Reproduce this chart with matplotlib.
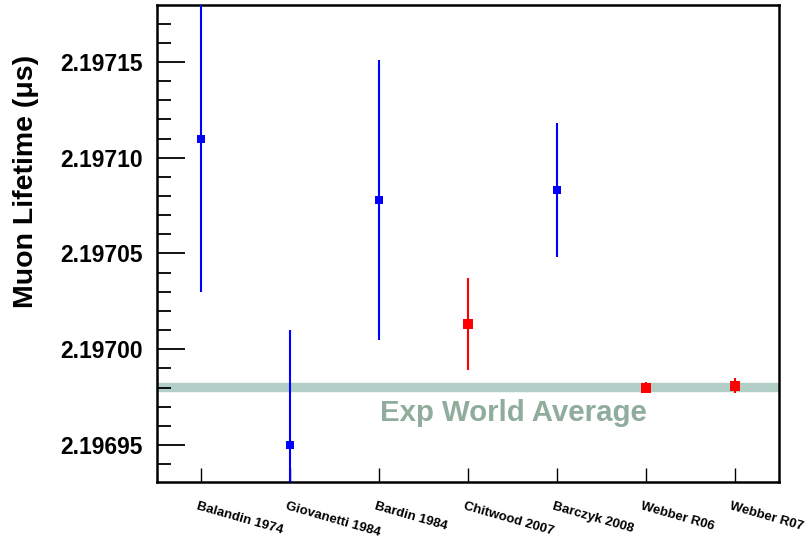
import numpy as np
import matplotlib
matplotlib.use("Agg")
import matplotlib.pyplot as plt
from matplotlib.ticker import MultipleLocator, FormatStrFormatter

plt.rcParams['font.family'] = ['Liberation Sans', 'DejaVu Sans']

# measurements of the muon lifetime (us)
experiments = ["Balandin 1974", "Giovanetti 1984", "Bardin 1984", "Chitwood 2007",
               "Barczyk 2008", "Webber R06", "Webber R07"]
lifetime = [2.19711, 2.19695, 2.197078, 2.197013, 2.197083, 2.196980, 2.196981]
errors = [0.00008, 0.00006, 0.000073, 0.000024, 0.000035, 0.0000030, 0.0000040]
colors = ["blue", "blue", "blue", "red", "blue", "red", "red"]

world_avg = 2.1969803
world_err = 0.0000022

fig = plt.figure(figsize=(8.1, 5.44), dpi=100)
ax = fig.add_axes([157 / 810, 1 - 482 / 544, (779 - 157) / 810, (482 - 5) / 544])

x = np.arange(len(experiments))

ax.axhspan(world_avg - world_err, world_avg + world_err, color="#b2cfc7", zorder=1)
ax.text(3.51, world_avg - 0.0000135, "Exp World Average", color="#8fac9c",
        fontsize=21.2, fontweight="bold", ha="center", va="center", zorder=2)

for i in range(len(x)):
    ms = 7 if colors[i] == "red" else 6
    ax.errorbar(x[i], lifetime[i], yerr=errors[i], fmt="s", color=colors[i],
                ms=ms, mew=0, elinewidth=1.5, capsize=1.5, capthick=1.5, zorder=3)

ax.set_xlim(-0.5, 6.5)
ax.set_ylim(2.1969307, 2.1971797)

ax.yaxis.set_major_locator(MultipleLocator(0.00005))
ax.yaxis.set_minor_locator(MultipleLocator(0.00001))
ax.yaxis.set_major_formatter(FormatStrFormatter("%.5f"))
ax.tick_params(axis="y", which="major", direction="in", length=20, width=1.3,
               labelsize=16.5, pad=10)
ax.tick_params(axis="y", which="minor", direction="in", length=10, width=1.3)
for lab in ax.get_yticklabels():
    lab.set_fontweight("bold")

ax.set_xticks(x)
ax.set_xticklabels([])
ax.tick_params(axis="x", which="major", direction="in", length=10, width=1.0)

for i in range(len(x)):
    ax.annotate(experiments[i], xy=(x[i], 0), xycoords=("data", "axes fraction"),
                xytext=(-2, -13), textcoords="offset points", rotation=-16,
                rotation_mode="anchor", ha="left", va="top", fontsize=9.5,
                fontweight="bold", annotation_clip=False)

for s in ax.spines.values():
    s.set_linewidth(1.8)

ax.set_ylabel("Muon Lifetime (\u03bcs)", fontsize=20.5, fontweight="bold")
ax.yaxis.set_label_coords(-0.19, 0.63)

fig.savefig("out.png", dpi=100)
